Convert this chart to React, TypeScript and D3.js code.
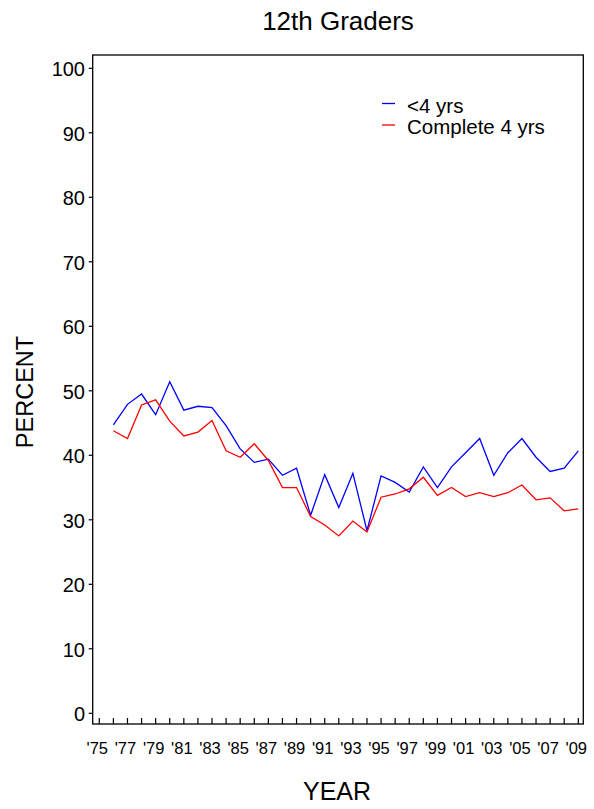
import React from "react";
import * as d3 from "d3";

const years: number[] = [
  1976, 1977, 1978, 1979, 1980, 1981, 1982, 1983, 1984, 1985, 1986, 1987,
  1988, 1989, 1990, 1991, 1992, 1993, 1994, 1995, 1996, 1997, 1998, 1999,
  2000, 2001, 2002, 2003, 2004, 2005, 2006, 2007, 2008, 2009,
];

const lessThan4: number[] = [
  44.7, 47.9, 49.5, 46.3, 51.4, 47.0, 47.6, 47.4, 44.6, 41.0, 38.9, 39.4,
  36.9, 38.0, 30.7, 37.0, 31.9, 37.2, 28.3, 36.8, 35.8, 34.3, 38.2, 35.0,
  38.2, 40.4, 42.6, 36.9, 40.4, 42.6, 39.7, 37.5, 38.0, 40.7,
];

const complete4: number[] = [
  43.8, 42.6, 47.8, 48.6, 45.3, 43.0, 43.6, 45.4, 40.7, 39.7, 41.8, 39.2,
  35.0, 35.0, 30.5, 29.2, 27.5, 29.8, 28.1, 33.5, 34.0, 34.8, 36.6, 33.8,
  35.0, 33.6, 34.2, 33.6, 34.2, 35.4, 33.1, 33.4, 31.4, 31.7,
];

const yTicks: number[] = [0, 10, 20, 30, 40, 50, 60, 70, 80, 90, 100];
const xTickYears: number[] = d3.range(1975, 2010);
const xLabelYears: number[] = d3.range(1975, 2010, 2);

const seriesNames: string[] = ["<4 yrs", "Complete 4 yrs"];
const seriesColors: string[] = ["#0000ff", "#ff0000"];

const FONT = "'Liberation Sans', Arial, Helvetica, sans-serif";

export default function App() {
  const W = 594;
  const H = 809;
  const box = { left: 92.7, right: 583.3, top: 55, bottom: 724 };

  const x = d3.scaleLinear().domain([1975, 2009]).range([99.3, 578.3]);
  const y = d3.scaleLinear().domain([0, 100]).range([713.3, 68.3]);

  const line = d3
    .line<number>()
    .x((_, i) => x(years[i]))
    .y((d) => y(d));

  const series = [lessThan4, complete4];

  return (
    <svg
      width={W}
      height={H}
      style={{ position: "absolute", left: 0, top: 0, background: "#fff" }}
      fontFamily={FONT}
    >
      <rect x={0} y={0} width={W} height={H} fill="#fff" />
      {/* title */}
      <text x={338} y={30} fontSize={26} textAnchor="middle" fill="#000">
        12th Graders
      </text>

      {/* frame */}
      <rect
        x={box.left}
        y={box.top}
        width={box.right - box.left}
        height={box.bottom - box.top}
        fill="none"
        stroke="#000"
        strokeWidth={1.3}
      />

      {/* y ticks */}
      {yTicks.map((t) => (
        <g key={"y" + t}>
          <line
            x1={box.left - 4}
            x2={box.left}
            y1={y(t)}
            y2={y(t)}
            stroke="#000"
            strokeWidth={1.2}
          />
          <text
            x={85}
            y={y(t) + 7.8}
            fontSize={20}
            textAnchor="end"
            fill="#000"
          >
            {t}
          </text>
        </g>
      ))}

      {/* x ticks */}
      {xTickYears.map((t) => (
        <line
          key={"x" + t}
          x1={x(t)}
          x2={x(t)}
          y1={box.bottom}
          y2={box.bottom - 6}
          stroke="#000"
          strokeWidth={1.2}
        />
      ))}
      {xLabelYears.map((t) => (
        <text
          key={"xl" + t}
          x={x(t) - 2}
          y={754}
          fontSize={16.5}
          textAnchor="middle"
          fill="#000"
        >
          {"'" + String(t).slice(2)}
        </text>
      ))}

      {/* axis titles */}
      <text
        transform={`translate(33,392) rotate(-90)`}
        fontSize={23.5}
        textAnchor="middle"
        fill="#000"
      >
        PERCENT
      </text>
      <text x={337} y={800} fontSize={25} textAnchor="middle" fill="#000">
        YEAR
      </text>

      {/* lines */}
      {series.map((s, i) => (
        <path
          key={"s" + i}
          d={line(s) || ""}
          fill="none"
          stroke={seriesColors[i]}
          strokeWidth={1.3}
          strokeLinejoin="miter"
        />
      ))}

      {/* legend */}
      {seriesNames.map((n, i) => (
        <g key={"lg" + i}>
          <line
            x1={382}
            x2={395}
            y1={103.5 + i * 21.5}
            y2={103.5 + i * 21.5}
            stroke={seriesColors[i]}
            strokeWidth={1.3}
          />
          <text x={407} y={113.3 + i * 21} fontSize={20.5} fill="#000">
            {n}
          </text>
        </g>
      ))}
    </svg>
  );
}
